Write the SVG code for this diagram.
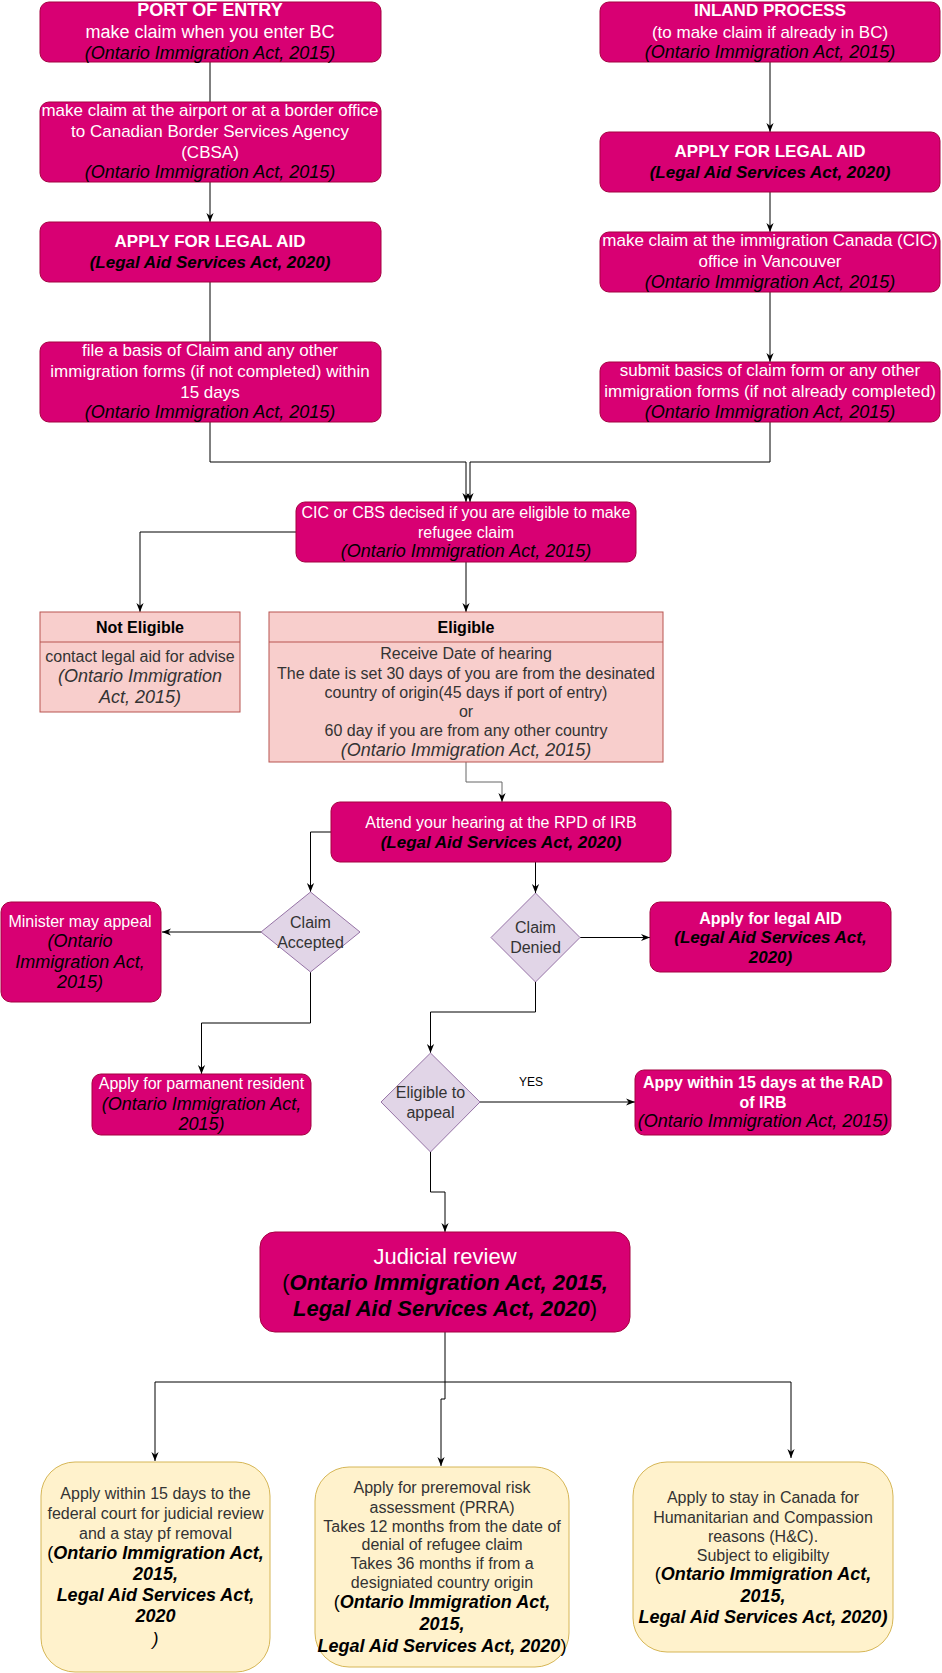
<svg xmlns="http://www.w3.org/2000/svg" width="942" height="1673" viewBox="0 0 942 1673">
<style>
.mg{fill:#d80073;stroke:#a50040;stroke-width:1}
.pk{fill:#f8cecc;stroke:#b85450;stroke-width:1}
.dm{fill:#e1d5e7;stroke:#9673a6;stroke-width:1}
.yl{fill:#fff2cc;stroke:#d6b656;stroke-width:1}
text{font-family:"Liberation Sans",Arial,Helvetica,sans-serif;text-anchor:middle;font-size:16px;fill:#000}
.w{fill:#fff}
.g{fill:#333}
.b{font-weight:bold}
.i{font-style:italic}
.bi{font-weight:bold;font-style:italic}
.s17{font-size:17px}
.s18{font-size:18px}
.s22{font-size:22px}
.s12{font-size:12px}
.c{fill:none;stroke:#000;stroke-width:1}
.cg{fill:none;stroke:#666;stroke-width:1}
</style>
<defs>
<marker id="ar" viewBox="0 0 10 10" refX="10" refY="5" markerWidth="9" markerHeight="9" markerUnits="userSpaceOnUse" orient="auto">
<path d="M0,1 L10,5 L0,9 L3,5 z" fill="#000"/>
</marker>
</defs>

<g id="connectors">
<path class="c" d="M210,62 V102"/>
<path class="c" d="M210,182 V222" marker-end="url(#ar)"/>
<path class="c" d="M210,282 V342"/>
<path class="c" d="M770,62 V132" marker-end="url(#ar)"/>
<path class="c" d="M770,192 V232" marker-end="url(#ar)"/>
<path class="c" d="M770,292 V362" marker-end="url(#ar)"/>
<path class="c" d="M210,422 V462 H466 V502" marker-end="url(#ar)"/>
<path class="c" d="M770,422 V462 H470 V502" marker-end="url(#ar)"/>
<path class="c" d="M296,532 H140 V612" marker-end="url(#ar)"/>
<path class="c" d="M466,562 V612" marker-end="url(#ar)"/>
<path class="cg" d="M466,762 V782 H502 V802" marker-end="url(#ar)"/>
<path class="c" d="M331,832 H310.5 V892" marker-end="url(#ar)"/>
<path class="c" d="M535.5,862 V893" marker-end="url(#ar)"/>
<path class="c" d="M261,932 H162" marker-end="url(#ar)"/>
<path class="c" d="M310.5,972 V1023 H201.5 V1074" marker-end="url(#ar)"/>
<path class="c" d="M580,937.5 H650" marker-end="url(#ar)"/>
<path class="c" d="M535.5,982 V1012 H430.5 V1053" marker-end="url(#ar)"/>
<path class="c" d="M480,1102 H635" marker-end="url(#ar)"/>
<text class="s12" x="531" y="1086">YES</text>
<path class="c" d="M430.5,1152 V1192 H445 V1232" marker-end="url(#ar)"/>
<path class="c" d="M445,1332 V1382 H155 V1461" marker-end="url(#ar)"/>
<path class="c" d="M445,1382 V1399 H441 V1466" marker-end="url(#ar)"/>
<path class="c" d="M445,1382 H791 V1458" marker-end="url(#ar)"/>
</g>

<g id="port-of-entry">
<rect class="mg" x="40" y="2" width="341" height="60" rx="9"/>
<text class="w b s18" x="210" y="16">PORT OF ENTRY</text>
<text class="w s18" x="210" y="38">make claim when you enter BC</text>
<text class="i s18" x="210" y="59">(Ontario Immigration Act, 2015)</text>
</g>

<g id="airport-claim">
<rect class="mg" x="40" y="102" width="341" height="80" rx="9"/>
<text class="w s17" x="210" y="116" textLength="337" lengthAdjust="spacingAndGlyphs">make claim at the airport or at a border office</text>
<text class="w s17" x="210" y="137">to Canadian Border Services Agency</text>
<text class="w s17" x="210" y="158">(CBSA)</text>
<text class="i s18" x="210" y="178">(Ontario Immigration Act, 2015)</text>
</g>

<g id="legal-aid-left">
<rect class="mg" x="40" y="222" width="341" height="60" rx="9"/>
<text class="w b s17" x="210" y="247">APPLY FOR LEGAL AID</text>
<text class="bi s17" x="210" y="268">(Legal Aid Services Act, 2020)</text>
</g>

<g id="basis-of-claim">
<rect class="mg" x="40" y="342" width="341" height="80" rx="9"/>
<text class="w s17" x="210" y="356">file a basis of Claim and any other</text>
<text class="w s17" x="210" y="377">immigration forms (if not completed) within</text>
<text class="w s17" x="210" y="398">15 days</text>
<text class="i s18" x="210" y="418">(Ontario Immigration Act, 2015)</text>
</g>

<g id="inland-process">
<rect class="mg" x="600" y="2" width="340" height="60" rx="9"/>
<text class="w b s17" x="770" y="16">INLAND PROCESS</text>
<text class="w s17" x="770" y="38">(to make claim if already in BC)</text>
<text class="i s18" x="770" y="58">(Ontario Immigration Act, 2015)</text>
</g>

<g id="legal-aid-right">
<rect class="mg" x="600" y="132" width="340" height="60" rx="9"/>
<text class="w b s17" x="770" y="157">APPLY FOR LEGAL AID</text>
<text class="bi s17" x="770" y="178">(Legal Aid Services Act, 2020)</text>
</g>

<g id="cic-office">
<rect class="mg" x="600" y="232" width="340" height="60" rx="9"/>
<text class="w s17" x="770" y="246">make claim at the immigration Canada (CIC)</text>
<text class="w s17" x="770" y="267">office in Vancouver</text>
<text class="i s18" x="770" y="288">(Ontario Immigration Act, 2015)</text>
</g>

<g id="submit-forms">
<rect class="mg" x="600" y="362" width="340" height="60" rx="9"/>
<text class="w s17" x="770" y="376">submit basics of claim form or any other</text>
<text class="w s17" x="770" y="397">immigration forms (if not already completed)</text>
<text class="i s18" x="770" y="418">(Ontario Immigration Act, 2015)</text>
</g>

<g id="eligibility-decision">
<rect class="mg" x="296" y="502" width="340" height="60" rx="9"/>
<text class="w" x="466" y="518">CIC or CBS decised if you are eligible to make</text>
<text class="w" x="466" y="538">refugee claim</text>
<text class="i s18" x="466" y="557">(Ontario Immigration Act, 2015)</text>
</g>

<g id="not-eligible">
<rect class="pk" x="40" y="612" width="200" height="100"/>
<line class="pk" x1="40" y1="642" x2="240" y2="642"/>
<text class="b" x="140" y="633">Not Eligible</text>
<text class="g" x="140" y="662">contact legal aid for advise</text>
<text class="i s18 g" x="140" y="682">(Ontario Immigration</text>
<text class="i s18 g" x="140" y="703">Act, 2015)</text>
</g>

<g id="eligible">
<rect class="pk" x="269" y="612" width="394" height="150"/>
<line class="pk" x1="269" y1="642" x2="663" y2="642"/>
<text class="b" x="466" y="633">Eligible</text>
<text class="g" x="466" y="659">Receive Date of hearing</text>
<text class="g" x="466" y="679">The date is set 30 days of you are from the desinated</text>
<text class="g" x="466" y="698">country of origin(45 days if port of entry)</text>
<text class="g" x="466" y="717">or</text>
<text class="g" x="466" y="736">60 day if you are from any other country</text>
<text class="i s18 g" x="466" y="756">(Ontario Immigration Act, 2015)</text>
</g>

<g id="attend-hearing">
<rect class="mg" x="331" y="802" width="340" height="60" rx="9"/>
<text class="w" x="501" y="828">Attend your hearing at the RPD of IRB</text>
<text class="bi s17" x="501" y="848">(Legal Aid Services Act, 2020)</text>
</g>

<g id="claim-accepted">
<polygon class="dm" points="310.5,892 360,932 310.5,972 261,932"/>
<text class="g" x="310.5" y="928">Claim</text>
<text class="g" x="310.5" y="948">Accepted</text>
</g>

<g id="claim-denied">
<polygon class="dm" points="535.5,893 580,937.5 535.5,982 491,937.5"/>
<text class="g" x="535.5" y="933">Claim</text>
<text class="g" x="535.5" y="953">Denied</text>
</g>

<g id="minister-appeal">
<rect class="mg" x="1" y="902" width="160" height="100" rx="10"/>
<text class="w" x="80" y="927">Minister may appeal</text>
<text class="i s18" x="80" y="947">(Ontario</text>
<text class="i s18" x="80" y="968">Immigration Act,</text>
<text class="i s18" x="80" y="988">2015)</text>
</g>

<g id="permanent-resident">
<rect class="mg" x="92" y="1074" width="219" height="61" rx="9"/>
<text class="w" x="201.5" y="1089">Apply for parmanent resident</text>
<text class="i s18" x="201.5" y="1110">(Ontario Immigration Act,</text>
<text class="i s18" x="201.5" y="1130">2015)</text>
</g>

<g id="apply-legal-aid-denied">
<rect class="mg" x="650" y="902" width="241" height="70" rx="10"/>
<text class="w b" x="770.5" y="924">Apply for legal AID</text>
<text class="bi s17" x="770.5" y="943">(Legal Aid Services Act,</text>
<text class="bi s17" x="770.5" y="963">2020)</text>
</g>

<g id="eligible-to-appeal">
<polygon class="dm" points="430.5,1053 480,1102 430.5,1152 381,1102"/>
<text class="g" x="430.5" y="1098">Eligible to</text>
<text class="g" x="430.5" y="1118">appeal</text>
</g>

<g id="rad-appeal">
<rect class="mg" x="635" y="1070" width="256" height="65" rx="9"/>
<text class="w b" x="763" y="1088">Appy within 15 days at the RAD</text>
<text class="w b" x="763" y="1108">of IRB</text>
<text class="i s18" x="763" y="1127">(Ontario Immigration Act, 2015)</text>
</g>

<g id="judicial-review">
<rect class="mg" x="260" y="1232" width="370" height="100" rx="15"/>
<text class="w s22" x="445" y="1264">Judicial review</text>
<text class="s22" x="445" y="1290"><tspan>(</tspan><tspan class="bi">Ontario Immigration Act, 2015,</tspan></text>
<text class="s22" x="445" y="1316"><tspan class="bi">Legal Aid Services Act, 2020</tspan><tspan>)</tspan></text>
</g>

<g id="federal-court">
<rect class="yl" x="41" y="1462" width="229" height="210" rx="34"/>
<text class="g" x="155.5" y="1499">Apply within 15 days to the</text>
<text class="g" x="155.5" y="1519">federal court for judicial review</text>
<text class="g" x="155.5" y="1539">and a stay pf removal</text>
<text class="s18" x="155.5" y="1559"><tspan>(</tspan><tspan class="bi">Ontario Immigration Act,</tspan></text>
<text class="bi s18" x="155.5" y="1580">2015,</text>
<text class="bi s18" x="155.5" y="1601">Legal Aid Services Act,</text>
<text class="bi s18" x="155.5" y="1622">2020</text>
<text class="i s18" x="155.5" y="1645">)</text>
</g>

<g id="prra">
<rect class="yl" x="315" y="1467" width="254" height="200" rx="34"/>
<text class="g" x="442" y="1493">Apply for preremoval risk</text>
<text class="g" x="442" y="1513">assessment (PRRA)</text>
<text class="g" x="442" y="1532">Takes 12 months from the date of</text>
<text class="g" x="442" y="1550">denial of refugee claim</text>
<text class="g" x="442" y="1569">Takes 36 months if from a</text>
<text class="g" x="442" y="1588">designiated country origin</text>
<text class="s18" x="442" y="1608"><tspan>(</tspan><tspan class="bi">Ontario Immigration Act,</tspan></text>
<text class="bi s18" x="442" y="1630">2015,</text>
<text class="s18" x="442" y="1652"><tspan class="bi">Legal Aid Services Act, 2020</tspan><tspan>)</tspan></text>
</g>

<g id="humanitarian">
<rect class="yl" x="633" y="1462" width="260" height="190" rx="34"/>
<text class="g" x="763" y="1503">Apply to stay in Canada for</text>
<text class="g" x="763" y="1523">Humanitarian and Compassion</text>
<text class="g" x="763" y="1542">reasons (H&amp;C).</text>
<text class="g" x="763" y="1561">Subject to eligibilty</text>
<text class="s18" x="763" y="1580"><tspan>(</tspan><tspan class="bi">Ontario Immigration Act,</tspan></text>
<text class="bi s18" x="763" y="1602">2015,</text>
<text class="bi s18" x="763" y="1623">Legal Aid Services Act, 2020)</text>
</g>
</svg>
